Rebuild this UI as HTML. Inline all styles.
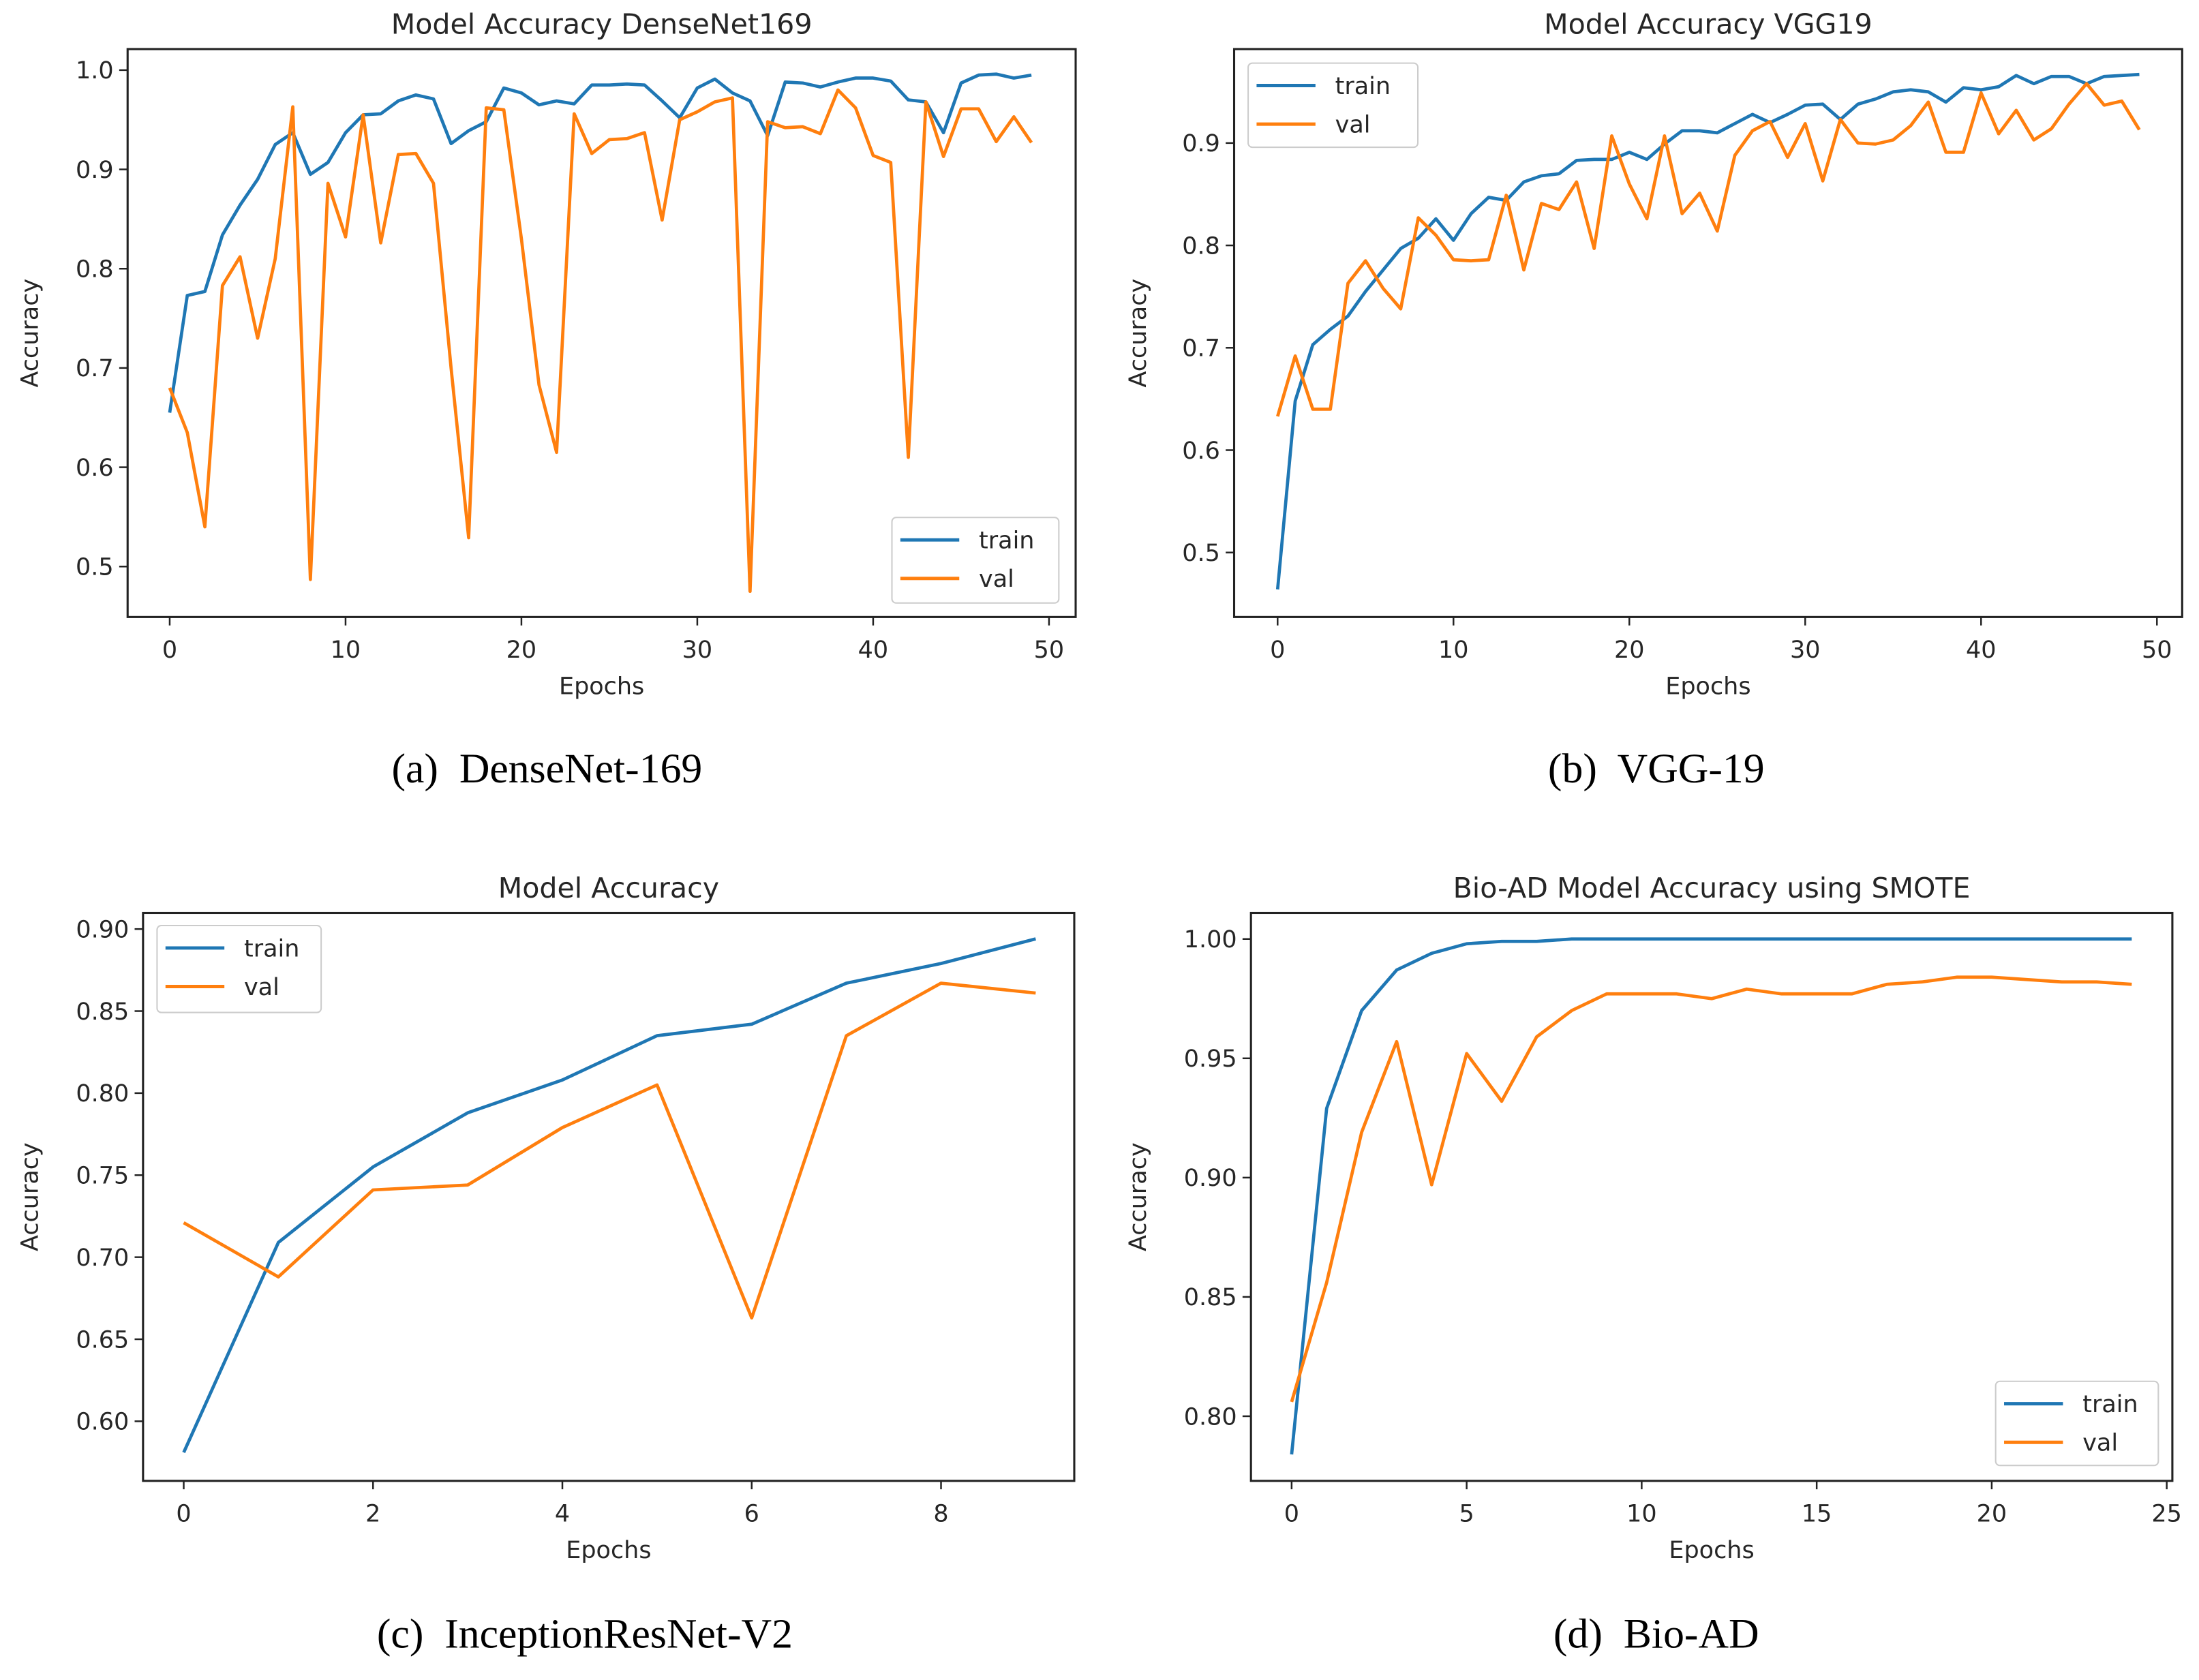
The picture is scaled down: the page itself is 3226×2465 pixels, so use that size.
<!DOCTYPE html>
<html><head><meta charset="utf-8"><style>
html,body{margin:0;padding:0;background:#fff;}
svg{display:block;}
text{font-family:"DejaVu Sans","Liberation Sans",sans-serif;fill:#262626;}
.cap{font-family:"Liberation Serif",serif;fill:#000;}
</style></head><body>
<svg id="fig" xmlns="http://www.w3.org/2000/svg" width="3226" height="2465" viewBox="0 0 1568 1198" preserveAspectRatio="none">
<rect width="1568" height="1198" fill="#fff"/>
</svg>
<script>
// ---- data ----
const epochsA = Array.from({length:50},(_,i)=>i);
const trainA = [0.655,0.773,0.777,0.834,0.864,0.89,0.925,0.937,0.895,0.907,0.937,0.955,0.956,0.969,0.975,0.971,0.926,0.939,0.948,0.982,0.977,0.965,0.969,0.966,0.985,0.985,0.986,0.985,0.969,0.952,0.982,0.991,0.977,0.969,0.934,0.988,0.987,0.983,0.988,0.992,0.992,0.989,0.970,0.968,0.937,0.987,0.995,0.996,0.992,0.995];
const valA = [0.68,0.635,0.54,0.783,0.812,0.73,0.81,0.963,0.487,0.886,0.832,0.955,0.826,0.915,0.916,0.886,0.70,0.529,0.962,0.96,0.83,0.683,0.615,0.956,0.916,0.93,0.931,0.937,0.849,0.95,0.958,0.968,0.972,0.475,0.948,0.942,0.943,0.936,0.98,0.962,0.914,0.907,0.61,0.968,0.913,0.961,0.961,0.928,0.953,0.927];
const xTicksA = [0,10,20,30,40,50];
const yTicksA = ["0.5","0.6","0.7","0.8","0.9","1.0"];

const epochsB = Array.from({length:50},(_,i)=>i);
const trainB = [0.464,0.648,0.703,0.718,0.731,0.755,0.776,0.797,0.807,0.826,0.805,0.831,0.847,0.844,0.862,0.868,0.870,0.883,0.884,0.884,0.891,0.884,0.899,0.912,0.912,0.91,0.919,0.928,0.92,0.928,0.937,0.938,0.923,0.938,0.943,0.95,0.952,0.95,0.94,0.954,0.952,0.955,0.966,0.958,0.965,0.965,0.958,0.965,0.966,0.967];
const valB = [0.633,0.692,0.640,0.640,0.763,0.785,0.758,0.738,0.827,0.81,0.786,0.785,0.786,0.849,0.776,0.841,0.835,0.862,0.797,0.907,0.86,0.826,0.907,0.831,0.851,0.814,0.888,0.912,0.921,0.886,0.919,0.863,0.923,0.9,0.899,0.903,0.917,0.94,0.891,0.891,0.949,0.909,0.932,0.903,0.914,0.938,0.958,0.937,0.941,0.913];
const xTicksB = [0,10,20,30,40,50];
const yTicksB = ["0.5","0.6","0.7","0.8","0.9"];

const epochsC = [0,1,2,3,4,5,6,7,8,9];
const trainC = [0.581,0.709,0.755,0.788,0.808,0.835,0.842,0.867,0.879,0.894];
const valC = [0.721,0.688,0.741,0.744,0.779,0.805,0.663,0.835,0.867,0.861];
const xTicksC = [0,2,4,6,8];
const yTicksC = ["0.60","0.65","0.70","0.75","0.80","0.85","0.90"];

const epochsD = Array.from({length:25},(_,i)=>i);
const trainD = [0.784,0.929,0.970,0.987,0.994,0.998,0.999,0.999,1.0,1.0,1.0,1.0,1.0,1.0,1.0,1.0,1.0,1.0,1.0,1.0,1.0,1.0,1.0,1.0,1.0];
const valD = [0.806,0.856,0.919,0.957,0.897,0.952,0.932,0.959,0.970,0.977,0.977,0.977,0.975,0.979,0.977,0.977,0.977,0.981,0.982,0.984,0.984,0.983,0.982,0.982,0.981];
const xTicksD = [0,5,10,15,20,25];
const yTicksD = ["0.80","0.85","0.90","0.95","1.00"];

const NS="http://www.w3.org/2000/svg";
const svg=document.getElementById('fig');
function mk(tag,attrs,parent){const e=document.createElementNS(NS,tag);for(const k in attrs)e.setAttribute(k,attrs[k]);(parent||svg).appendChild(e);return e;}

function panel(cfg){
  const g=mk('g',{});
  
  
  const sx=v=>cfg.x0px+(v-cfg.x0v)*(cfg.x1px-cfg.x0px)/(cfg.x1v-cfg.x0v);
  const sy=v=>cfg.y0px+(v-cfg.y0v)*(cfg.y1px-cfg.y0px)/(cfg.y1v-cfg.y0v);
  const [L,R,T,B]=cfg.box;
  [[cfg.train,'#1f77b4','train-line'],[cfg.val,'#ff7f0e','val-line']].forEach(([arr,c,n])=>{
    const p=mk('polyline',{points:arr.map((v,i)=>sx(cfg.ep[i])+','+sy(v)).join(' '),fill:'none',stroke:c,'stroke-width':2.3,'stroke-linejoin':'round'},g);
    
    
  });
  const fr=mk('rect',{x:L,y:T,width:R-L,height:B-T,fill:'none',stroke:'#222','stroke-width':1.5},g);
  
  
  cfg.xt.forEach(t=>{
    const x=sx(t);
    mk('line',{x1:x,x2:x,y1:B,y2:B+6,stroke:'#222','stroke-width':1.2},g);
    const tx=mk('text',{x:x,y:B+29,'font-size':17,'text-anchor':'middle'},g);
    tx.textContent=t;
    
    
  });
  cfg.yt.forEach(t=>{
    const y=sy(parseFloat(t));
    mk('line',{x1:L-6,x2:L,y1:y,y2:y,stroke:'#222','stroke-width':1.2},g);
    const tx=mk('text',{x:L-10,y:y+6,'font-size':17,'text-anchor':'end'},g);
    tx.textContent=t;
    
    
  });
  const ti=mk('text',{x:(L+R)/2,y:T-11,'font-size':20,'text-anchor':'middle'},g);
  ti.textContent=cfg.title;
  
  
  const xl=mk('text',{x:(L+R)/2,y:B+55,'font-size':17,'text-anchor':'middle'},g);
  xl.textContent='Epochs';
  
  
  const cy=(T+B)/2;
  const yl=mk('text',{x:cfg.ylx,y:cy,'font-size':17,'text-anchor':'middle',transform:`rotate(-90 ${cfg.ylx} ${cy})`},g);
  yl.textContent='Accuracy';
  
  
  const [lx,ly,lw,lh]=cfg.leg;
  const lg=mk('g',{},g);
  
  
  mk('rect',{x:lx,y:ly,width:lw,height:lh,rx:3,fill:'#fff','fill-opacity':0.85,stroke:'#ccc','stroke-width':1},lg);
  [['train','#1f77b4'],['val','#ff7f0e']].forEach(([n,c],i)=>{
    const yy=ly+16+i*27.5;
    mk('line',{x1:lx+6,x2:lx+48,y1:yy,y2:yy,stroke:c,'stroke-width':2.4},lg);
    const t=mk('text',{x:lx+62,y:yy+6,'font-size':17},lg);
    t.textContent=n;
    
    
  });
  const cp=mk('text',{x:cfg.capx,y:cfg.capy,'font-size':30,'text-anchor':'middle',class:'cap'},g);
  cp.textContent=cfg.cap;
  
  
}

panel({name:'chart-densenet169',ep:epochsA,train:trainA,val:valA,xt:xTicksA,yt:yTicksA,
  x0v:0,x1v:50,x0px:121,x1px:748,y0v:1.0,y1v:0.5,y0px:50,y1px:404,box:[91,767,35,440],
  title:'Model Accuracy DenseNet169',ylx:27,leg:[636,369,119,61],cap:'(a)\u00a0 DenseNet-169',capx:390,capy:558});
panel({name:'chart-vgg19',ep:epochsB,train:trainB,val:valB,xt:xTicksB,yt:yTicksB,
  x0v:0,x1v:50,x0px:911,x1px:1538,y0v:0.9,y1v:0.5,y0px:102,y1px:394,box:[880,1556,35,440],
  title:'Model Accuracy VGG19',ylx:817,leg:[890,45,121,60],cap:'(b)\u00a0 VGG-19',capx:1181,capy:558});
panel({name:'chart-inceptionresnetv2',ep:epochsC,train:trainC,val:valC,xt:xTicksC,yt:yTicksC,
  x0v:0,x1v:8,x0px:131,x1px:671,y0v:0.9,y1v:0.6,y0px:662.5,y1px:1013.5,box:[102,766,651,1056],
  title:'Model Accuracy',ylx:27,leg:[112,660,117,62],cap:'(c)\u00a0 InceptionResNet-V2',capx:417,capy:1175});
panel({name:'chart-bio-ad',ep:epochsD,train:trainD,val:valD,xt:xTicksD,yt:yTicksD,
  x0v:0,x1v:25,x0px:921,x1px:1545,y0v:1.0,y1v:0.8,y0px:669.6,y1px:1009.9,box:[892,1549,651,1056],
  title:'Bio-AD Model Accuracy using SMOTE',ylx:817,leg:[1423,985,116,60],cap:'(d)\u00a0 Bio-AD',capx:1181,capy:1175});
</script>
</body></html>
